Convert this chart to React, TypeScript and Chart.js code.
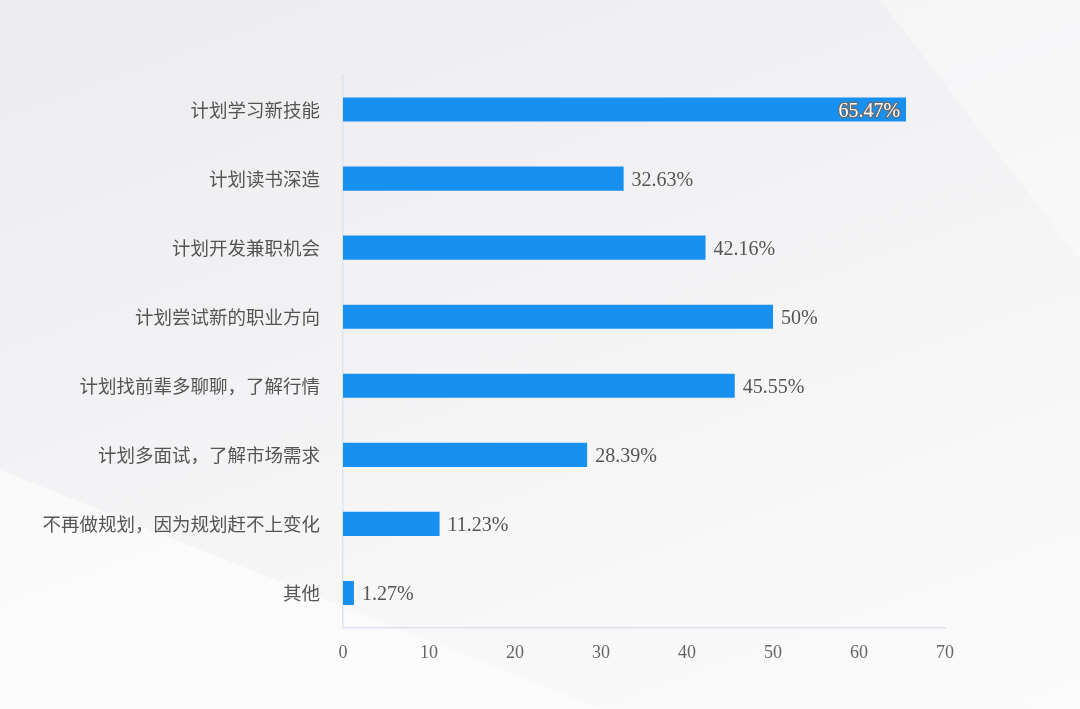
import React, { useEffect, useRef } from "react";
import { Chart, registerables } from "chart.js";

Chart.register(...registerables);

const categories = [
  "计划学习新技能",
  "计划读书深造",
  "计划开发兼职机会",
  "计划尝试新的职业方向",
  "计划找前辈多聊聊，了解行情",
  "计划多面试，了解市场需求",
  "不再做规划，因为规划赶不上变化",
  "其他",
];
const values = [65.47, 32.63, 42.16, 50, 45.55, 28.39, 11.23, 1.27];
const valueLabels = ["65.47%", "32.63%", "42.16%", "50%", "45.55%", "28.39%", "11.23%", "1.27%"];
const xTicks = [0, 10, 20, 30, 40, 50, 60, 70];

const valueLabelPlugin = {
  id: "valueLabels",
  afterDatasetsDraw(chart: any) {
    const ctx = chart.ctx;
    const meta = chart.getDatasetMeta(0);
    ctx.save();
    ctx.font = "20px 'Liberation Serif', 'Times New Roman', serif";
    ctx.textBaseline = "middle";
    meta.data.forEach((bar: any, i: number) => {
      const text = valueLabels[i];
      const y = bar.y + 2;
      if (i === 0) {
        ctx.textAlign = "right";
        ctx.lineWidth = 2.5;
        ctx.strokeStyle = "#6a6a6a";
        ctx.lineJoin = "round";
        ctx.strokeText(text, bar.x - 6, y);
        ctx.fillStyle = "#ffffff";
        ctx.fillText(text, bar.x - 6, y);
      } else {
        ctx.textAlign = "left";
        ctx.fillStyle = "#555555";
        ctx.fillText(text, bar.x + 8, y);
      }
    });
    ctx.restore();
  },
};

export default function App() {
  const ref = useRef<HTMLCanvasElement | null>(null);
  useEffect(() => {
    if (!ref.current) return;
    const chart = new Chart(ref.current, {
      type: "bar",
      data: {
        labels: categories,
        datasets: [
          {
            data: values,
            backgroundColor: "#1890f0",
            barPercentage: 0.35,
            categoryPercentage: 1,
          },
        ],
      },
      options: {
        indexAxis: "y",
        animation: false,
        responsive: false,
        maintainAspectRatio: false,
        layout: { padding: { left: 0, right: 135, top: 75, bottom: 0 } },
        plugins: { legend: { display: false }, tooltip: { enabled: false } },
        scales: {
          x: {
            min: 0,
            max: 70,
            afterBuildTicks: (scale: any) => {
              scale.ticks = xTicks.map((v) => ({ value: v }));
            },
            afterFit: (scale: any) => {
              scale.height = 81.5;
            },
            grid: { display: false, drawTicks: false },
            border: { display: true, color: "#dde3ea", width: 1.5 },
            ticks: {
              padding: 15,
              color: "#666666",
              font: { family: "'Liberation Serif', 'Times New Roman', serif", size: 18 },
            },
          },
          y: {
            afterFit: (scale: any) => {
              scale.width = 343;
            },
            grid: { display: false, drawTicks: false },
            border: { display: true, color: "#dde3ea", width: 1.5 },
            ticks: {
              padding: 23,
              color: "#555555",
              font: { family: "'Noto Sans CJK SC', 'Noto Sans', sans-serif", size: 18.5 },
            },
          },
        },
      },
      plugins: [valueLabelPlugin],
    });
    return () => chart.destroy();
  }, []);

  return (
    <div
      style={{
        position: "fixed",
        left: 0,
        top: 0,
        width: 1080,
        height: 709,
        overflow: "hidden",
        background: "linear-gradient(160deg, #ececee 0%, #f3f3f5 45%, #f8f8f9 75%, #fbfbfb 100%)",
      }}
    >
      <div
        style={{
          position: "absolute",
          left: 0,
          top: 0,
          width: 1080,
          height: 709,
          background: "rgba(255,255,255,0.55)",
          clipPath: "polygon(0 470px, 600px 709px, 0 709px)",
        }}
      />
      <div
        style={{
          position: "absolute",
          left: 0,
          top: 0,
          width: 1080,
          height: 709,
          background: "rgba(255,255,255,0.35)",
          clipPath: "polygon(880px 0, 1080px 0, 1080px 260px)",
        }}
      />
      <canvas ref={ref} width={1080} height={709} style={{ position: "absolute", left: 0, top: 0 }} />
    </div>
  );
}
